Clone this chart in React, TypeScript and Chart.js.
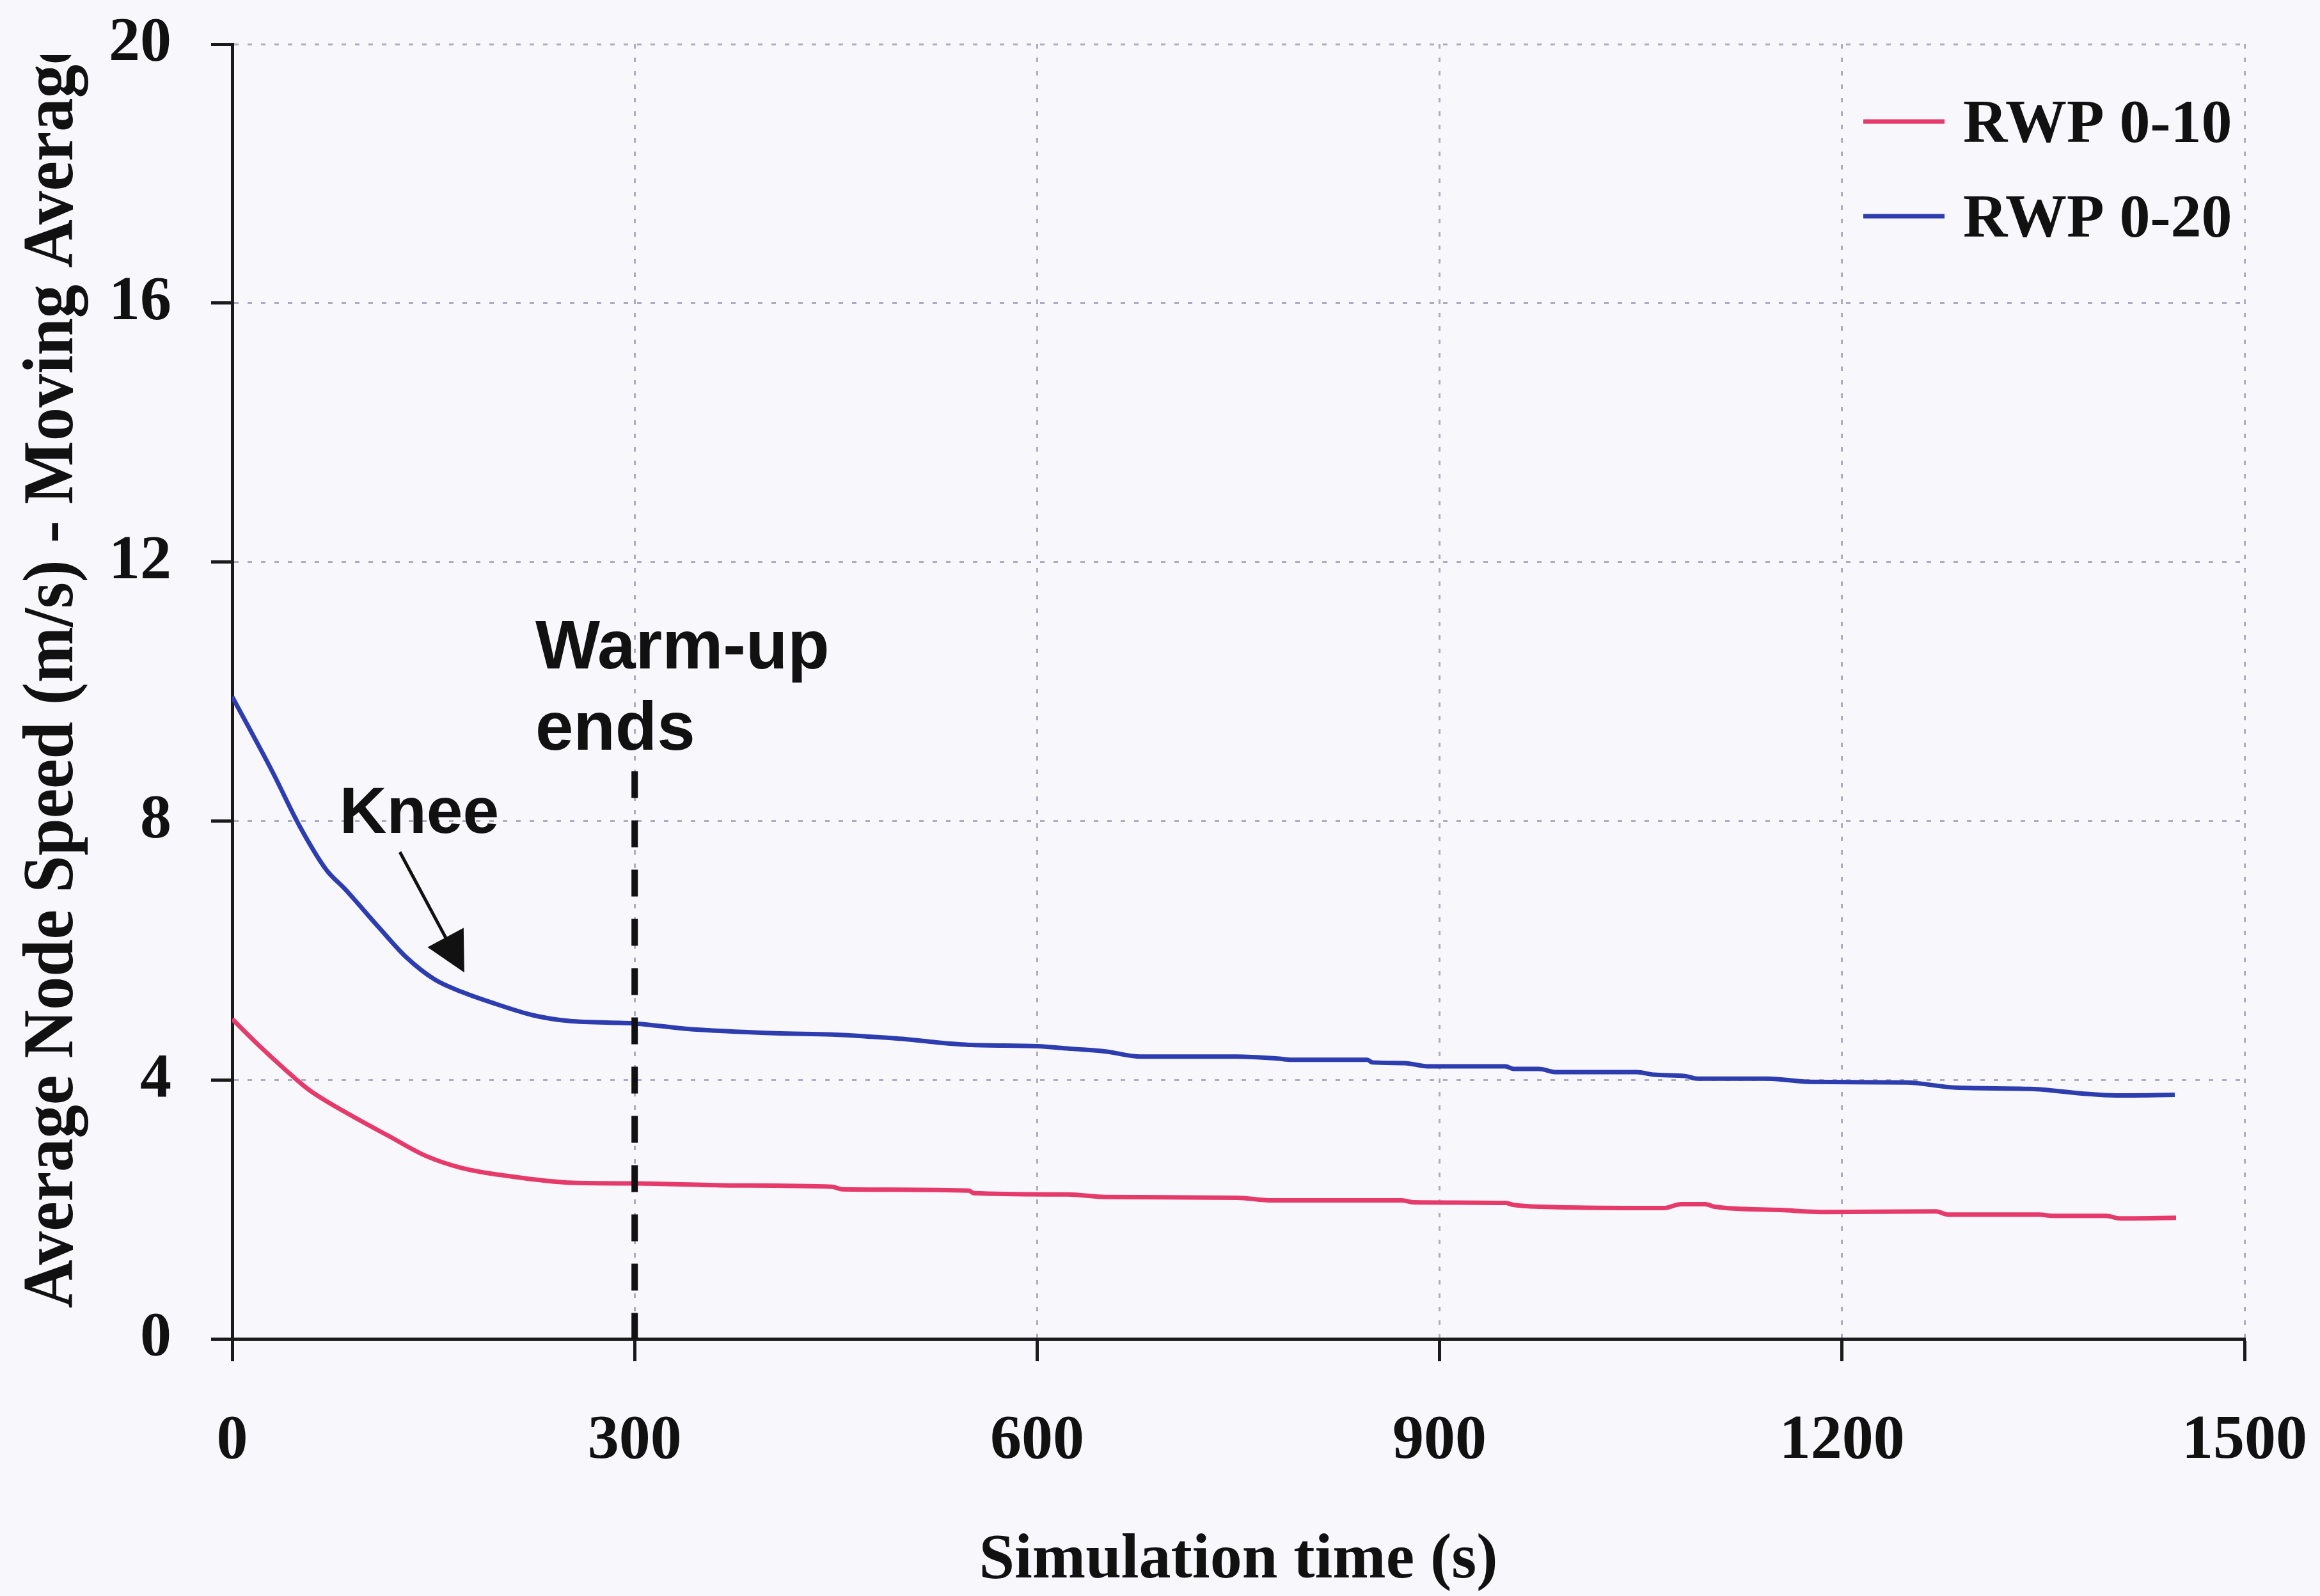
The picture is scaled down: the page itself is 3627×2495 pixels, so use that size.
import React, { useEffect, useRef } from 'react';
import { Chart, registerables } from 'chart.js';

Chart.register(...registerables);

// ---- data ----
const timeRwp10 = [0, 20, 40, 57, 87, 117, 144, 171, 204, 254, 301, 371, 447, 455, 549, 553, 623, 651, 749, 775, 872, 880, 949, 955, 976, 1067, 1080, 1098, 1105, 1154, 1185, 1270, 1279, 1347, 1357, 1397, 1407, 1449];
const speedRwp10 = [4.94, 4.53, 4.15, 3.85, 3.47, 3.13, 2.83, 2.64, 2.52, 2.41, 2.40, 2.37, 2.35, 2.31, 2.29, 2.25, 2.23, 2.19, 2.18, 2.14, 2.14, 2.11, 2.10, 2.07, 2.04, 2.02, 2.08, 2.08, 2.04, 1.99, 1.96, 1.97, 1.92, 1.92, 1.90, 1.90, 1.86, 1.87];

const timeRwp20 = [0, 30, 50, 70, 84, 110, 130, 151, 171, 197, 224, 251, 301, 338, 405, 447, 474, 502, 525, 551, 600, 626, 651, 677, 749, 779, 790, 846, 850, 874, 891, 949, 955, 974, 987, 1047, 1060, 1083, 1092, 1145, 1176, 1248, 1285, 1341, 1379, 1404, 1448];
const speedRwp20 = [9.92, 8.76, 7.93, 7.25, 6.95, 6.34, 5.89, 5.55, 5.36, 5.17, 5.00, 4.91, 4.87, 4.79, 4.72, 4.70, 4.67, 4.63, 4.58, 4.54, 4.52, 4.48, 4.44, 4.36, 4.36, 4.33, 4.31, 4.31, 4.27, 4.26, 4.21, 4.21, 4.17, 4.17, 4.12, 4.12, 4.08, 4.06, 4.02, 4.02, 3.97, 3.96, 3.88, 3.86, 3.79, 3.76, 3.77];

const seriesLabels = ['RWP 0-10', 'RWP 0-20'];
const xRange = [0, 1500];
const xStep = 300;
const yRange = [0, 20];
const yStep = 4;
const xTitle = 'Simulation time (s)';
const yTitle = 'Average Node Speed (m/s) - Moving Average';

// annotations (data coordinates)
const warmupTime = [300, 300];
const warmupSpeed = [8.77, 0];
const warmupLines = ['Warm-up', 'ends'];
const warmupTextAt = [226, 10.36];
const warmupLine2At = [226, 9.1];
const kneeLabel = 'Knee';
const kneeTextAt = [80, 7.82];
const kneeArrowFrom = [125, 7.52];
const kneeArrowTo = [173, 5.66];

// ---- styles ----
const W = 3627;
const H = 2495;
const BG = '#F7F7FC';
const RED = '#E63A6A';
const BLUE = '#2D3DB0';
const INK = '#111111';
const AXIS = '#1a1a1a';
const GRID = 'rgba(140,140,170,0.7)';
const SERIF = '"Liberation Serif", "Times New Roman", serif';
const SANS = '"Liberation Sans", Arial, sans-serif';

const decorPlugin = {
  id: 'decor',
  beforeDraw(chart: any) {
    const { ctx } = chart;
    ctx.save();
    ctx.fillStyle = BG;
    ctx.fillRect(0, 0, chart.width, chart.height);
    ctx.restore();
  },
  afterDraw(chart: any) {
    const { ctx } = chart;
    const xs = chart.scales.x;
    const ys = chart.scales.y;
    const px = (v: number) => xs.getPixelForValue(v);
    const py = (v: number) => ys.getPixelForValue(v);

    // y-axis title (clipped at top like the reference)
    ctx.save();
    ctx.beginPath();
    ctx.rect(0, 86, 300, chart.height - 86);
    ctx.clip();
    ctx.font = `bold 112px ${SERIF}`;
    ctx.fillStyle = INK;
    const partialW = ctx.measureText(yTitle.slice(0, -1)).width;
    const k = 1944 / partialW;
    ctx.translate(113, 2045);
    ctx.rotate(-Math.PI / 2);
    ctx.scale(k, 1);
    ctx.textAlign = 'left';
    ctx.textBaseline = 'alphabetic';
    ctx.fillText(yTitle, 0, 0);
    ctx.restore();

    // legend
    ctx.save();
    ctx.font = `bold 96px ${SERIF}`;
    ctx.textAlign = 'left';
    ctx.textBaseline = 'alphabetic';
    const dsList = chart.data.datasets.filter((d: any) => seriesLabels.includes(d.label));
    dsList.forEach((d: any, i: number) => {
      const cy = 190 + i * 148;
      ctx.strokeStyle = d.borderColor;
      ctx.lineWidth = 7;
      ctx.beginPath();
      ctx.moveTo(2913, cy);
      ctx.lineTo(3040, cy);
      ctx.stroke();
      ctx.fillStyle = INK;
      ctx.fillText(d.label, 3069, cy + 32);
    });
    ctx.restore();

    // annotations text
    ctx.save();
    ctx.fillStyle = INK;
    ctx.textAlign = 'left';
    ctx.textBaseline = 'alphabetic';
    ctx.font = `bold 107px ${SANS}`;
    ctx.fillText(warmupLines[0], px(warmupTextAt[0]), py(warmupTextAt[1]));
    ctx.fillText(warmupLines[1], px(warmupLine2At[0]), py(warmupLine2At[1]));
    ctx.font = `bold 102px ${SANS}`;
    ctx.fillText(kneeLabel, px(kneeTextAt[0]), py(kneeTextAt[1]));

    // knee arrow
    const x1 = px(kneeArrowFrom[0]);
    const y1 = py(kneeArrowFrom[1]);
    const x2 = px(kneeArrowTo[0]);
    const y2 = py(kneeArrowTo[1]);
    const dx = x2 - x1;
    const dy = y2 - y1;
    const len = Math.hypot(dx, dy);
    const ux = dx / len;
    const uy = dy / len;
    const headL = 62;
    const headW = 32;
    const bx = x2 - ux * headL;
    const by = y2 - uy * headL;
    ctx.strokeStyle = INK;
    ctx.lineWidth = 5;
    ctx.beginPath();
    ctx.moveTo(x1, y1);
    ctx.lineTo(bx + ux * 5, by + uy * 5);
    ctx.stroke();
    ctx.beginPath();
    ctx.moveTo(x2, y2);
    ctx.lineTo(bx - uy * headW, by + ux * headW);
    ctx.lineTo(bx + uy * headW, by - ux * headW);
    ctx.closePath();
    ctx.fill();
    ctx.restore();
  },
};

export default function App() {
  const ref = useRef<HTMLCanvasElement | null>(null);

  useEffect(() => {
    if (!ref.current) return;
    const toPts = (t: number[], v: number[]) => t.map((tt, i) => ({ x: tt, y: v[i] }));
    const chart = new Chart(ref.current, {
      type: 'line',
      data: {
        datasets: [
          {
            label: 'warm-up',
            data: toPts(warmupTime, warmupSpeed),
            borderColor: INK,
            borderWidth: 10,
            borderDash: [42, 35],
            pointRadius: 0,
            order: 0,
          },
          {
            label: seriesLabels[0],
            data: toPts(timeRwp10, speedRwp10),
            borderColor: RED,
            borderWidth: 7,
            pointRadius: 0,
            cubicInterpolationMode: 'monotone',
            order: 1,
          },
          {
            label: seriesLabels[1],
            data: toPts(timeRwp20, speedRwp20),
            borderColor: BLUE,
            borderWidth: 7,
            pointRadius: 0,
            cubicInterpolationMode: 'monotone',
            order: 1,
          },
        ],
      },
      options: {
        responsive: false,
        devicePixelRatio: 1,
        animation: false,
        events: [],
        layout: { padding: { left: 0, top: 69, right: 118, bottom: 0 } },
        plugins: {
          legend: { display: false },
          tooltip: { enabled: false },
          title: { display: false },
        },
        scales: {
          x: {
            type: 'linear',
            min: xRange[0],
            max: xRange[1],
            ticks: {
              stepSize: xStep,
              font: { family: SERIF, weight: 'bold', size: 98 },
              color: INK,
              padding: 67,
              maxRotation: 0,
              autoSkip: false,
              callback: (v: any) => String(v),
            },
            grid: {
              color: GRID,
              lineWidth: 3,
              tickLength: 35,
              tickColor: AXIS,
              tickWidth: 5,
              tickBorderDash: [],
            },
            border: { display: true, color: AXIS, width: 5, dash: [7, 14] },
            title: {
              display: true,
              text: xTitle,
              color: INK,
              font: { family: SERIF, weight: 'bold', size: 100, lineHeight: 1.1 },
              padding: { top: 0, bottom: 0 },
            },
            afterFit: (s: any) => {
              s.height = 402;
              s.paddingLeft = 0;
              s.paddingRight = 0;
              s.paddingTop = 0;
              s.paddingBottom = 0;
            },
          },
          y: {
            type: 'linear',
            min: yRange[0],
            max: yRange[1],
            ticks: {
              stepSize: yStep,
              font: { family: SERIF, weight: 'bold', size: 98 },
              color: INK,
              padding: 62,
              callback: (v: any) => String(v),
            },
            grid: {
              color: GRID,
              lineWidth: 3,
              tickLength: 33,
              tickColor: AXIS,
              tickWidth: 5,
              tickBorderDash: [],
            },
            border: { display: true, color: AXIS, width: 5, dash: [7, 14] },
            afterFit: (s: any) => {
              s.width = 363;
              s.paddingLeft = 0;
              s.paddingRight = 0;
              s.paddingTop = 0;
              s.paddingBottom = 0;
            },
          },
        },
      } as any,
      plugins: [decorPlugin],
    });
    return () => chart.destroy();
  }, []);

  return (
    <div style={{ position: 'fixed', left: 0, top: 0, width: W, height: H, background: BG }}>
      <canvas ref={ref} width={W} height={H} style={{ display: 'block', width: W, height: H }} />
    </div>
  );
}
